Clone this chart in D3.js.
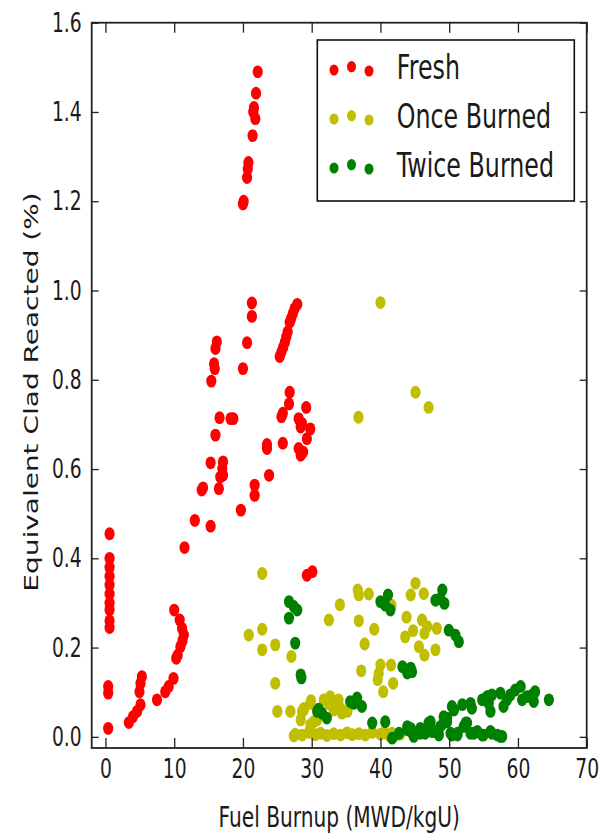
<!DOCTYPE html>
<html><head><meta charset="utf-8">
<script src="https://cdn.jsdelivr.net/npm/d3@7"></script>
<style>html,body{margin:0;padding:0;background:#fff;}svg{display:block;}text{font-family:"DejaVu Sans",sans-serif;fill:#1a1a1a;}</style>
</head><body>
<script>
// ---- data ----
const seriesNames = ["Fresh", "Once Burned", "Twice Burned"];
const seriesColors = ["#ff0000", "#bfbf00", "#008000"];
const xTicks = [0, 10, 20, 30, 40, 50, 60, 70];
const yTicks = [0.0, 0.2, 0.4, 0.6, 0.8, 1.0, 1.2, 1.4, 1.6];
const xLabel = "Fuel Burnup (MWD/kgU)";
const yLabel = "Equivalent Clad Reacted (%)";

const fresh = [
 [22.15,1.49],[21.9,1.442],[21.5,1.40],[21.8,1.385],[21.6,1.41],[21.4,1.347],[20.8,1.287],[20.7,1.272],[20.6,1.253],[20.0,1.194],[20.1,1.20],
 [21.3,0.972],[21.3,0.942],
 [27.9,0.969],[27.5,0.959],[27.25,0.948],[27.0,0.937],[26.8,0.929],[26.5,0.907],[26.3,0.896],[26.1,0.884],[25.85,0.873],[25.6,0.862],[25.35,0.852],
 [16.2,0.885],[16.0,0.87],[20.6,0.883],[15.8,0.836],[15.9,0.825],[20.0,0.825],[15.4,0.797],
 [26.8,0.772],[26.7,0.746],[29.2,0.738],[16.6,0.715],[18.2,0.713],[18.6,0.713],[25.6,0.717],[25.8,0.725],
 [28.1,0.713],[28.6,0.702],[28.4,0.694],[29.8,0.690],[29.3,0.668],[16.0,0.676],[25.8,0.658],[23.5,0.646],[23.5,0.655],
 [28.1,0.646],[28.75,0.638],[28.4,0.631],[15.3,0.614],[17.1,0.616],[17.0,0.601],[16.7,0.582],[17.1,0.586],[16.5,0.556],
 [14.0,0.553],[14.2,0.558],[23.8,0.586],[21.7,0.564],[21.7,0.541],[19.7,0.508],[13.0,0.485],[15.3,0.472],[11.5,0.424],
 [0.6,0.455],[0.6,0.40],[0.6,0.38],[0.6,0.36],[0.6,0.34],[0.6,0.32],[0.6,0.30],[0.6,0.285],[0.6,0.26],[0.6,0.245],
 [0.4,0.113],[0.4,0.098],[0.4,0.019],
 [5.3,0.135],[5.1,0.120],[4.95,0.101],[5.1,0.072],[4.6,0.057],[4.0,0.045],[3.4,0.032],[7.5,0.083],[8.7,0.101],[9.2,0.113],[9.9,0.131],
 [10.0,0.284],[10.8,0.262],[11.15,0.243],[11.4,0.228],[10.9,0.202],[10.5,0.183],[10.3,0.176],[11.2,0.215],
 [29.3,0.362],[30.1,0.370]
];

const onceBurned = [
 [22.8,0.366],[20.85,0.228],[22.8,0.241],[22.8,0.195],[24.7,0.206],[27.05,0.180],[24.7,0.120],
 [25.0,0.057],[26.9,0.057],[28.6,0.057],[28.4,0.038],[29.9,0.081],[30.3,0.034],[28.85,0.064],[32.1,0.083],[32.5,0.074],
 [33.9,0.083],[34.2,0.064],[34.4,0.053],[33.2,0.064],[35.2,0.057],[31.75,0.083],[32.7,0.090],[33.2,0.060],[30.8,0.038],
 [29.8,0.027],[29.8,0.075],[28.85,0.060],
 [32.5,0.262],[34.1,0.296],[36.7,0.329],[36.85,0.318],[38.3,0.320],[36.85,0.260],[39.1,0.241],[37.7,0.208],[37.2,0.148],
 [40.0,0.161],[39.75,0.142],[39.6,0.128],[40.4,0.101],[41.55,0.161],[41.85,0.120],[41.6,0.295],[43.8,0.268],[45.1,0.344],
 [44.4,0.318],[46.3,0.321],[43.6,0.224],[44.75,0.238],[46.05,0.262],[46.8,0.247],[46.4,0.232],[48.2,0.243],[45.6,0.202],
 [46.4,0.183],[48.0,0.195],
 [40.0,0.973],[36.8,0.716],[45.1,0.772],[47.0,0.738],
 [27.4,0.002],[27.6,0.006],[28.6,0.004],[29.6,0.010],[30.5,0.005],[31.3,0.008],[32.2,0.003],[33.2,0.007],[34.2,0.004],
 [35.15,0.009],[35.9,0.005],[36.85,0.007],[37.8,0.004],[38.8,0.010],[40.0,0.006],[40.5,0.009],[41.2,0.004],[41.7,0.008],
 [42.4,0.005],[42.9,0.006],[29.8,0.016]
];

const twiceBurned = [
 [26.7,0.303],[27.4,0.292],[27.9,0.284],[26.7,0.266],[27.6,0.210],[28.4,0.139],[28.5,0.132],
 [30.8,0.057],[31.5,0.053],[32.2,0.042],[31.0,0.062],
 [35.6,0.079],[36.6,0.087],[37.3,0.068],[36.1,0.075],
 [38.8,0.031],[40.7,0.034],[41.7,-0.003],
 [43.2,0.157],[44.4,0.154],[43.9,0.143],[44.6,0.146],
 [40.0,0.303],[41.1,0.318],[41.45,0.284],[40.7,0.295],
 [48.0,0.306],[49.0,0.329],[49.3,0.299],[48.7,0.310],
 [49.95,0.239],[50.9,0.228],[51.4,0.213],
 [50.4,0.068],[50.7,0.060],[51.9,0.072],[53.1,0.075],[53.3,0.064],[54.8,0.083],[55.5,0.090],[56.2,0.094],[55.75,0.075],
 [56.0,0.057],[57.45,0.098],[57.9,0.068],[58.4,0.083],[58.9,0.094],[59.6,0.105],[60.4,0.113],[60.6,0.083],[61.3,0.090],
 [62.1,0.094],[62.5,0.101],[62.3,0.079],[64.5,0.083],
 [42.7,0.008],[43.9,0.016],[43.9,0.023],[44.4,0.012],[44.85,0.001],[44.85,0.008],[45.8,0.019],[45.8,0.008],[46.5,0.008],
 [47.0,0.031],[47.3,0.034],[47.5,0.012],[47.75,0.012],[48.5,0.004],[48.7,0.023],[49.2,0.031],[49.2,0.045],[49.7,0.042],
 [49.7,0.034],[50.2,0.008],[50.4,0.004],[51.2,0.008],[51.2,0.004],[52.1,0.023],[52.4,0.031],[52.6,0.031],[53.1,0.008],
 [53.6,0.008],[54.1,0.012],[54.8,0.004],[55.0,0.004],[56.0,0.012],[56.2,0.008],[57.0,0.004],[57.45,0.001],[57.7,0.001],
 [44.4,0.019]
];
const allSeries = [fresh, onceBurned, twiceBurned];

// ---- layout ----
const W = 601, H = 833;
const SX = 0.72; // horizontal text compression of the source
const plotLeft = 91.7, plotRight = 586.7, plotTop = 22.7, plotBottom = 748;

const svg = d3.select("body").append("svg").attr("width", W).attr("height", H);

const x = d3.scaleLinear().domain([-2, 70]).range([plotLeft, plotRight]);
const y = d3.scaleLinear().domain([-0.025, 1.6]).range([plotBottom, plotTop]);

// points
allSeries.forEach((pts, i) => {
  svg.append("g").selectAll("ellipse").data(pts).join("ellipse")
    .attr("cx", d => x(d[0])).attr("cy", d => y(d[1]))
    .attr("rx", 5.1).attr("ry", 6.4)
    .attr("fill", seriesColors[i]);
});

// axes with inward ticks on four sides
const axColor = "#222";
const gB = svg.append("g").attr("transform", `translate(0,${plotBottom})`)
  .call(d3.axisBottom(x).tickValues(xTicks).tickSizeInner(-10).tickSizeOuter(0).tickPadding(10).tickFormat(d3.format("d")));
const gT = svg.append("g").attr("transform", `translate(0,${plotTop})`)
  .call(d3.axisTop(x).tickValues(xTicks).tickSizeInner(-10).tickSizeOuter(0).tickFormat(""));
const gL = svg.append("g").attr("transform", `translate(${plotLeft},0)`)
  .call(d3.axisLeft(y).tickValues(yTicks).tickSizeInner(-7).tickSizeOuter(0).tickFormat(d3.format(".1f")));
const gR = svg.append("g").attr("transform", `translate(${plotRight},0)`)
  .call(d3.axisRight(y).tickValues(yTicks).tickSizeInner(-7).tickSizeOuter(0).tickFormat(""));
[gB, gT, gL, gR].forEach(g => {
  g.select(".domain").remove();
  g.selectAll(".tick line").attr("stroke", axColor).attr("stroke-width", 1.3);
});
gB.selectAll(".tick text")
  .attr("y", null).attr("dy", null)
  .attr("transform", `translate(0,30) scale(${SX},1)`)
  .style("font-size", "26px").attr("fill", "#1a1a1a").attr("font-family", null);
gL.selectAll(".tick text")
  .attr("x", null).attr("dy", null)
  .attr("transform", `translate(-10,8.5) scale(${SX},1)`)
  .style("font-size", "26px").attr("fill", "#1a1a1a").attr("font-family", null);

// frame
svg.append("rect").attr("x", plotLeft).attr("y", plotTop).attr("width", plotRight - plotLeft).attr("height", plotBottom - plotTop)
  .attr("fill", "none").attr("stroke", axColor).attr("stroke-width", 1.8);

// axis labels
svg.append("text").attr("text-anchor", "middle")
  .attr("transform", `translate(${(plotLeft + plotRight) / 2},827) scale(${SX},1)`)
  .style("font-size", "28px").text(xLabel);
svg.append("text").attr("text-anchor", "middle")
  .attr("transform", `translate(38,392) scale(${SX},1) rotate(-90)`)
  .style("font-size", "28px").text(yLabel);

// legend
const lg = svg.append("g");
lg.append("rect").attr("x", 317.3).attr("y", 40).attr("width", 257).attr("height", 161)
  .attr("fill", "#fff").attr("stroke", "#111").attr("stroke-width", 1.6);
const legOffsets = [3.3, 0, 4.3];
const legXs = [334, 351.5, 369];
seriesNames.forEach((name, i) => {
  const base = 79 + i * 49;
  legOffsets.forEach((off, k) => {
    lg.append("ellipse").attr("cx", legXs[k]).attr("cy", base - 12.3 + off)
      .attr("rx", 4.5).attr("ry", 5.6).attr("fill", seriesColors[i]);
  });
  lg.append("text").attr("transform", `translate(396.7,${base}) scale(${SX},1)`)
    .style("font-size", "33px").text(name);
});
</script>
</body></html>
